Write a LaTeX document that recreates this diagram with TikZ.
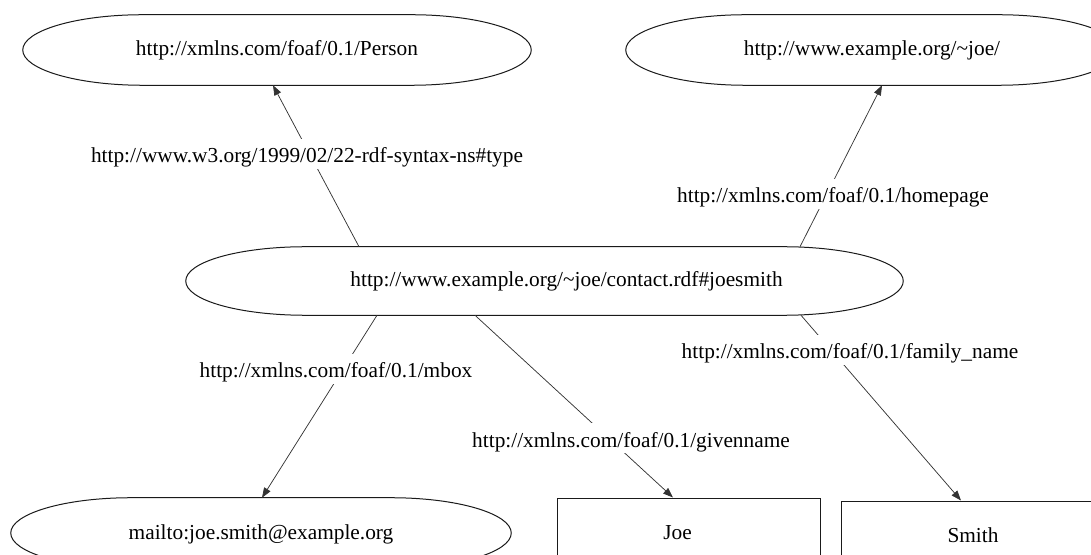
\documentclass[tikz,border=0pt]{standalone}
\usepackage{fontspec}
\setmainfont{Liberation Serif}
\usepackage{tikz}
\usetikzlibrary{arrows.meta,calc}
\definecolor{ink}{HTML}{1A1A1A}
\definecolor{linkgray}{HTML}{333333}
\newcommand{\urifont}{\fontsize{16}{19}\selectfont}
\newcommand{\pillr}{120}
% outline with elliptical ends round a resource node
\newcommand{\pill}[1]{%
  \draw[outline] ($(#1.north west)+(\pillr,0)$) -- ($(#1.north east)+(-\pillr,0)$)
    .. controls +(0.552*\pillr,0) and ($(#1.east)+(0,-19.3)$) .. (#1.east)
    .. controls ($(#1.east)+(0,19.3)$) and ($(#1.south east)+(-0.448*\pillr,0)$) .. ($(#1.south east)+(-\pillr,0)$)
    -- ($(#1.south west)+(\pillr,0)$)
    .. controls +(-0.552*\pillr,0) and ($(#1.west)+(0,19.3)$) .. (#1.west)
    .. controls ($(#1.west)+(0,-19.3)$) and ($(#1.north west)+(0.448*\pillr,0)$) .. ($(#1.north west)+(\pillr,0)$) -- cycle;}

\begin{document}
\begin{tikzpicture}[x=0.75pt,y=-0.75pt,
    outline/.style={draw=ink,line width=0.75pt},
    resource/.style={inner sep=0pt,minimum height=52.5pt,text height=11pt,text depth=2pt,font=\urifont},
    literal/.style={draw=ink,line width=0.75pt,inner sep=0pt,minimum height=52.5pt,text height=11pt,text depth=2pt,font=\urifont},
    link/.style={draw=linkgray,line width=0.55pt,-{Triangle[length=7.5pt,width=5.5pt]}},
    predicate/.style={fill=white,inner xsep=2pt,inner ysep=1.5pt,text height=16.5pt,text depth=3pt,anchor=base,font=\urifont}]
  \useasboundingbox (0,0) rectangle (1091,555);
  \clip (0,0) rectangle (1091,555);

  % Resources
  \node[resource,minimum width=381pt] (person) at (277,50) {http://xmlns.com/foaf/0.1/Person};
  \node[resource,minimum width=369pt] (homepage) at (872,50) {http://www.example.org/\textasciitilde joe/};
  \node[resource,minimum width=537.75pt,minimum height=51pt] (subject) at (544.5,281) {\hspace*{33pt}http://www.example.org/\textasciitilde joe/contact.rdf\#joesmith};
  \node[resource,minimum width=375pt] (mailto) at (261,533) {mailto:joe.smith@example.org};
  \pill{person}
  \pill{homepage}
  \pill{subject}
  \pill{mailto}

  % Literals
  \node[literal,minimum width=197.25pt] (joe) at (688.5,533) {Joe\hspace*{16.5pt}};
  \node[literal,minimum width=198pt] (smith) at (973,536) {Smith};

  % Properties
  \draw[link] ($(subject.north)+(-185.5,0)$) -- ($(person.south)+(-4,0)$);
  \draw[link] ($(subject.north)+(255.5,0)$) -- ($(homepage.south)+(10,0)$);
  \draw[link] ($(subject.south)+(-167.5,0)$) -- ($(mailto.north)+(1,0)$);
  \draw[link] ($(subject.south)+(-69.5,0)$) -- ($(joe.north)+(-15.5,0)$);
  \draw[link] ($(subject.south)+(256.5,0)$) -- ($(smith.north)+(-12,0)$);

  \node[predicate] (type) at (307,163) {http://www.w3.org/1999/02/22-rdf-syntax-ns\#type};
  \node[predicate] (page) at (833,203) {http://xmlns.com/foaf/0.1/homepage};
  \node[predicate] (mbox) at (336,378) {http://xmlns.com/foaf/0.1/mbox};
  \node[predicate] (given) at (631,447) {http://xmlns.com/foaf/0.1/givenname};
  \node[predicate] (family) at (850,359) {http://xmlns.com/foaf/0.1/family\_name};
\end{tikzpicture}
\end{document}
